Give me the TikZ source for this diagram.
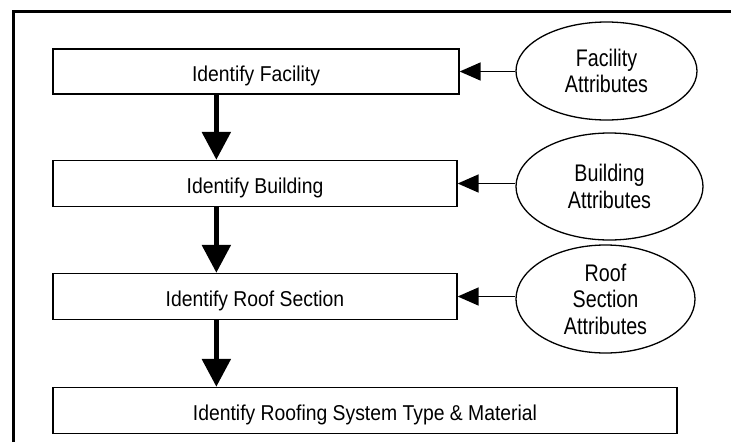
\documentclass[tikz,border=0pt]{standalone}
\usepackage{fontspec}
\setmainfont{Liberation Sans}
\newfontfamily\taskfont{Liberation Sans}[FakeStretch=0.9]
\newfontfamily\sourcefont{Liberation Sans}[FakeStretch=0.82]
\usepackage{tikz}
\usetikzlibrary{shapes}
\usetikzlibrary{shapes.geometric}
\usetikzlibrary{arrows.meta}
\pgfdeclarelayer{edgelayer}
\pgfdeclarelayer{nodelayer}
\pgfsetlayers{edgelayer,nodelayer,main}
\tikzstyle{none}=[inner sep=0pt]
\tikzstyle{task}=[rectangle, draw, fill=white, line width=1.3pt, minimum height=46pt, text height=20.5pt, text depth=0pt, font=\taskfont\fontsize{21.5}{25}\selectfont]
\tikzstyle{source}=[ellipse, draw, fill=white, line width=1.3pt, inner sep=0pt, align=center, font=\sourcefont\fontsize{24}{26.5}\selectfont]
\tikzstyle{flow}=[line width=5.5pt, -{Triangle[width=28pt,length=28pt]}]
\tikzstyle{feed}=[line width=1.5pt, -{Triangle[width=18pt,length=21pt]}]

\begin{document}
\begin{tikzpicture}[x=1pt, y=-1pt]
	\useasboundingbox (0,0) rectangle (731,442);
	\draw[line width=3pt] (13.5,442) -- (13.5,11.5) -- (731,11.5);
	\begin{pgfonlayer}{nodelayer}
		\node [style=task, minimum width=406pt, minimum height=45pt] (0) at (256,71.5) {Identify Facility};
		\node [style=task, minimum width=404pt] (1) at (255,183.5) {Identify Building};
		\node [style=task, minimum width=404pt] (2) at (255,296.5) {Identify Roof Section};
		\node [style=task, minimum width=624pt] (3) at (365,410.5) {Identify Roofing System Type \& Material};
		\node [style=source, minimum width=181pt, minimum height=98pt] (4) at (606.5,71) {Facility\\Attributes};
		\node [style=source, minimum width=187pt, minimum height=107pt] (5) at (609.5,186.5) {Building\\Attributes};
		\node [style=source, minimum width=179pt, minimum height=108pt] (6) at (605.5,299) {Roof\\Section\\Attributes};
	\end{pgfonlayer}
	\begin{pgfonlayer}{edgelayer}
		\fill[white] (0,0) rectangle (731,442);
		\draw [style=flow] ([xshift=164pt]0.south west) to ([xshift=164pt]1.north west);
		\draw [style=flow] ([xshift=164pt]1.south west) to ([xshift=164pt]2.north west);
		\draw [style=flow] ([xshift=164pt]2.south west) to ([xshift=164pt]3.north west);
		\draw [style=feed] (0.east -| 4.west) to (0.east);
		\draw [style=feed] (1.east -| 5.west) to (1.east);
		\draw [style=feed] (2.east -| 6.west) to (2.east);
	\end{pgfonlayer}
\end{tikzpicture}
\end{document}
